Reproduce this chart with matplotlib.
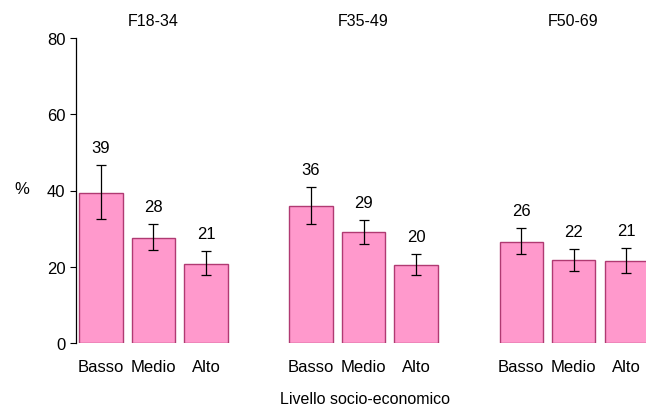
import matplotlib
matplotlib.use("Agg")
import matplotlib.pyplot as plt
import numpy as np

plt.rcParams["font.family"] = ["Liberation Sans", "DejaVu Sans"]

# ── dati ──────────────────────────────────────────────────────────────────────
gruppi = ["F18-34", "F35-49", "F50-69"]
livelli = ["Basso", "Medio", "Alto"]

valori = [
    [39.3, 27.5, 20.7],
    [35.9, 29.1, 20.5],
    [26.5, 21.8, 21.5],
]
ic_basso = [
    [32.5, 24.4, 17.8],
    [31.2, 26.0, 17.8],
    [23.3, 18.9, 18.4],
]
ic_alto = [
    [46.7, 31.2, 24.1],
    [40.9, 32.3, 23.3],
    [30.2, 24.7, 24.9],
]
etichette = [
    [39, 28, 21],
    [36, 29, 20],
    [26, 22, 21],
]

# ── grafico ───────────────────────────────────────────────────────────────────
fig = plt.figure(figsize=(6.46, 4.10), dpi=100)
ax = fig.add_axes([76 / 646, 1 - 344 / 410, 1 - 76 / 646, (344 - 39) / 410])

passo_gruppo = 4
for g, nome in enumerate(gruppi):
    x = np.arange(len(livelli)) + g * passo_gruppo
    v = np.array(valori[g])
    lo = v - np.array(ic_basso[g])
    hi = np.array(ic_alto[g]) - v
    ax.bar(x, v, width=0.82, color="#FF99CC", edgecolor="#B03A72",
           linewidth=1.0)
    ax.errorbar(x, v, yerr=[lo, hi], fmt="none", ecolor="black",
                elinewidth=0.9, capsize=3.5, capthick=0.9)
    for xi, top, lab in zip(x, ic_alto[g], etichette[g]):
        ax.annotate(str(lab), (xi, top), xytext=(0, 7),
                    textcoords="offset points", ha="center", va="bottom",
                    fontsize=12)
    ax.text(x[1], 84.5, nome, ha="center", va="center", fontsize=11.5)
    for xi, liv in zip(x, livelli):
        ax.text(xi, -6.2, liv, ha="center", va="center", fontsize=12)

ax.set_xlim(-0.476, 10.38)
ax.set_ylim(0, 80)
ax.set_yticks([0, 20, 40, 60, 80])
ax.tick_params(axis="y", labelsize=12, length=4, width=0.8, direction="out")
ax.set_xticks([])
for lato in ["top", "right", "bottom"]:
    ax.spines[lato].set_visible(False)
ax.spines["left"].set_linewidth(0.9)
ax.set_facecolor("none")

fig.text(22 / 646, 1 - 190 / 410, "%", ha="center", va="center", fontsize=12)
fig.text(365 / 646, 1 - 400 / 410, "Livello socio-economico",
         ha="center", va="center", fontsize=11.5)

fig.savefig("out.png", dpi=100)
